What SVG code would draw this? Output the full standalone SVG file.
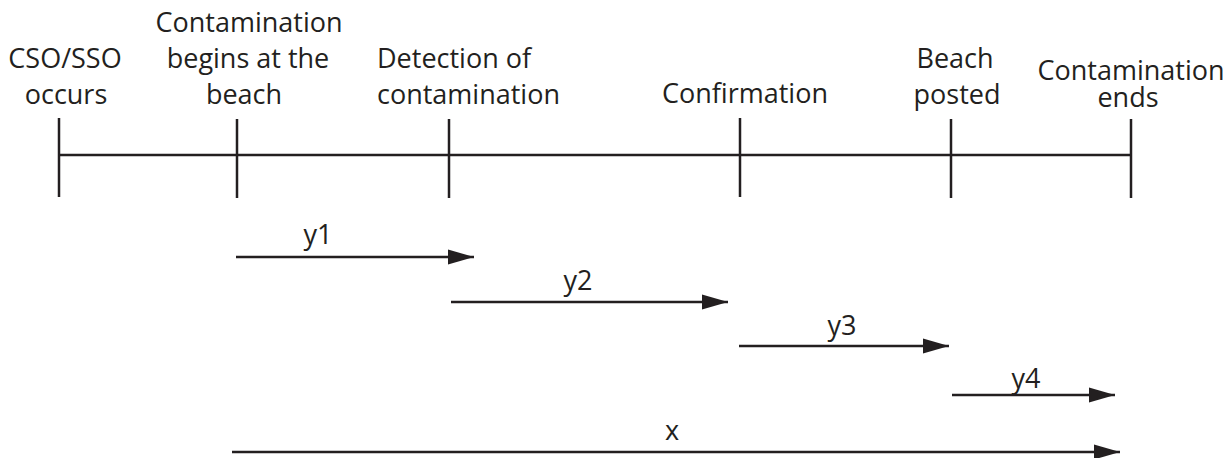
<svg xmlns="http://www.w3.org/2000/svg" width="1232" height="458" viewBox="0 0 1232 458">
<style>
  .t { font-family: "Open Sans", "Noto Sans", sans-serif; font-size: 27px; fill: #231f20; text-anchor: middle; }
  .ln { stroke: #231f20; stroke-width: 2.5; fill: none; }
</style>
<defs>
  <marker id="ah" markerWidth="26" markerHeight="16" refX="26" refY="8" orient="auto" markerUnits="userSpaceOnUse">
    <path d="M0,0.5 L26,8 L0,15.5 Z" fill="#231f20"/>
  </marker>
</defs>
<rect width="1232" height="458" fill="#ffffff"/>
<g id="timeline">
  <line class="ln" x1="59" y1="155" x2="1131" y2="155"/>
</g>
<g id="n-cso">
  <line class="ln" x1="59" y1="118" x2="59" y2="197"/>
  <text class="t" x="65" y="68">CSO/SSO</text>
  <text class="t" x="66" y="104">occurs</text>
</g>
<g id="n-begins">
  <line class="ln" x1="237" y1="119" x2="237" y2="198"/>
  <text class="t" x="249" y="32">Contamination</text>
  <text class="t" x="248" y="68">begins at the</text>
  <text class="t" x="244" y="104">beach</text>
</g>
<g id="n-detection">
  <line class="ln" x1="449" y1="119" x2="449" y2="198"/>
  <text class="t" x="377" y="68" style="text-anchor:start">Detection of</text>
  <text class="t" x="377" y="104" style="text-anchor:start">contamination</text>
</g>
<g id="n-confirmation">
  <line class="ln" x1="740" y1="118" x2="740" y2="197"/>
  <text class="t" x="745" y="103">Confirmation</text>
</g>
<g id="n-posted">
  <line class="ln" x1="951" y1="119" x2="951" y2="198"/>
  <text class="t" x="955" y="68">Beach</text>
  <text class="t" x="957" y="104">posted</text>
</g>
<g id="n-ends">
  <line class="ln" x1="1131" y1="119" x2="1131" y2="198"/>
  <text class="t" x="1131" y="80">Contamination</text>
  <text class="t" x="1128" y="107">ends</text>
</g>
<g id="connectors">
  <line class="ln" x1="236" y1="257" x2="474" y2="257" marker-end="url(#ah)"/>
  <line class="ln" x1="451" y1="302" x2="728" y2="302" marker-end="url(#ah)"/>
  <line class="ln" x1="739" y1="346" x2="949" y2="346" marker-end="url(#ah)"/>
  <line class="ln" x1="952" y1="395" x2="1115" y2="395" marker-end="url(#ah)"/>
  <line class="ln" x1="232" y1="452" x2="1120" y2="452" marker-end="url(#ah)"/>
</g>
<g id="labels">
  <text class="t" x="318" y="244">y1</text>
  <text class="t" x="578" y="290">y2</text>
  <text class="t" x="842" y="335">y3</text>
  <text class="t" x="1026" y="388">y4</text>
  <text class="t" x="672" y="440">x</text>
</g>
</svg>
